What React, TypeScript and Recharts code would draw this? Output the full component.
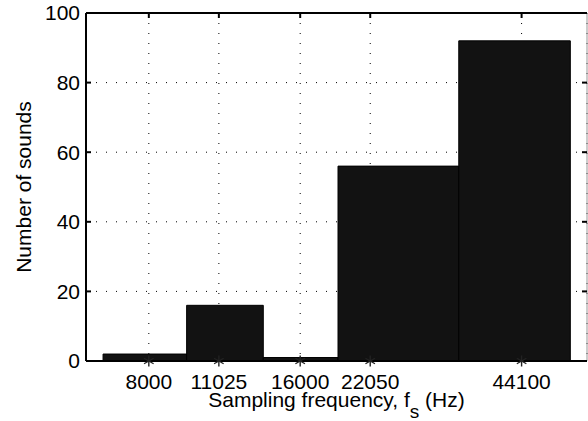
import React from 'react';
import {
  ComposedChart,
  XAxis,
  YAxis,
  CartesianGrid,
  ReferenceArea,
  ReferenceLine,
  Scatter,
} from 'recharts';

// Histogram of sampling frequencies (bin centres in Hz, counts per bin)
const hzCenters = [8000, 11025, 16000, 22050, 44100];
const soundCounts = [2, 16, 1, 56, 92];
const yTicks = [0, 20, 40, 60, 80, 100];
const xDomain = [6000, 59500];

const FONT = '"Liberation Sans", Arial, Helvetica, sans-serif';
const PLOT_TOP = 13;
const PLOT_LEFT = 86;
const PLOT_RIGHT = 587;

// bar edges sit halfway between neighbouring centres (linear), like MATLAB hist
const mids = hzCenters.slice(1).map((c, i) => (c + hzCenters[i]) / 2);
const edges = [
  hzCenters[0] - (mids[0] - hzCenters[0]),
  ...mids,
  hzCenters[hzCenters.length - 1] + (hzCenters[hzCenters.length - 1] - mids[mids.length - 1]),
];

const bins = hzCenters.map((hz, i) => ({ hz, lo: edges[i], hi: edges[i + 1], count: soundCounts[i] }));
const markers = hzCenters.map((hz) => ({ hz, n: 0 }));

const XTick = (props: any) => {
  const { x, y, payload } = props;
  return (
    <g>
      <line x1={x} y1={PLOT_TOP} x2={x} y2={PLOT_TOP + 5} stroke="#000" strokeWidth={2} />
      <text x={x} y={y} dy="0.71em" textAnchor="middle" fontSize={21} fontFamily={FONT} fill="#000">
        {payload.value}
      </text>
    </g>
  );
};

const YTick = (props: any) => {
  const { x, y, payload } = props;
  return (
    <g>
      <line x1={PLOT_LEFT} y1={y} x2={PLOT_LEFT + 5} y2={y} stroke="#000" strokeWidth={2} />
      <line x1={PLOT_RIGHT - 5} y1={y} x2={PLOT_RIGHT} y2={y} stroke="#000" strokeWidth={2} />
      <text x={x} y={y} dy="0.35em" textAnchor="end" fontSize={21} fontFamily={FONT} fill="#000">
        {payload.value}
      </text>
    </g>
  );
};

const Asterisk = (props: any) => {
  const { cx, cy } = props;
  const r = 5.5;
  const arms = [90, 30, -30];
  return (
    <g stroke="#222" strokeWidth={1.4}>
      {arms.map((a) => {
        const dx = r * Math.cos((a * Math.PI) / 180);
        const dy = r * Math.sin((a * Math.PI) / 180);
        return <line key={a} x1={cx - dx} y1={cy - dy} x2={cx + dx} y2={cy + dy} />;
      })}
    </g>
  );
};

const YLabel = (props: any) => {
  const vb = props.viewBox || { x: 0, y: PLOT_TOP, height: 348 };
  const cx = vb.x + 31;
  const cy = vb.y + vb.height / 2;
  return (
    <text
      x={cx}
      y={cy}
      transform={`rotate(-90, ${cx}, ${cy})`}
      textAnchor="middle"
      fontSize={21}
      fontFamily={FONT}
      fill="#000"
    >
      Number of sounds
    </text>
  );
};

const XLabel = (props: any) => {
  const vb = props.viewBox || { x: PLOT_LEFT, y: 361, width: 501 };
  const cx = vb.x + vb.width / 2;
  return (
    <text x={cx} y={407} textAnchor="middle" fontSize={21} fontFamily={FONT} fill="#000" style={{ whiteSpace: 'pre' }}>
      Sampling frequency, f
      <tspan dy={11} fontSize={19}>s</tspan>
      <tspan dy={-11}> (Hz)</tspan>
    </text>
  );
};

export default function App() {
  return (
    <div style={{ position: 'absolute', left: 0, top: 0, width: 588, height: 421, background: '#fff' }}>
      <ComposedChart width={588} height={421} margin={{ top: 13, right: 1, bottom: 0, left: 0 }}>
        <CartesianGrid stroke="#000" strokeDasharray="1 9" strokeWidth={1} />
        {bins.map((b) => (
          <ReferenceArea
            key={b.hz}
            x1={b.lo}
            x2={b.hi}
            y1={0}
            y2={b.count}
            fill="#121212"
            fillOpacity={1}
            stroke="#000"
            strokeWidth={1}
            ifOverflow="visible"
          />
        ))}
        <ReferenceLine y={100} stroke="#000" strokeWidth={2} />
        <ReferenceLine x={xDomain[1]} stroke="#999" strokeWidth={1} />
        <XAxis
          type="number"
          dataKey="hz"
          scale="log"
          domain={xDomain}
          allowDataOverflow
          ticks={hzCenters}
          interval={0}
          height={60}
          tickSize={0}
          tickMargin={13}
          tickLine={false}
          axisLine={{ stroke: '#000', strokeWidth: 2 }}
          tick={<XTick />}
          label={<XLabel />}
        />
        <YAxis
          type="number"
          dataKey="n"
          domain={[0, 100]}
          ticks={yTicks}
          interval={0}
          width={86}
          tickSize={0}
          tickMargin={6}
          tickLine={false}
          axisLine={{ stroke: '#000', strokeWidth: 2 }}
          tick={<YTick />}
          label={<YLabel />}
        />
        <Scatter data={markers} dataKey="n" shape={<Asterisk />} isAnimationActive={false} />
      </ComposedChart>
    </div>
  );
}
